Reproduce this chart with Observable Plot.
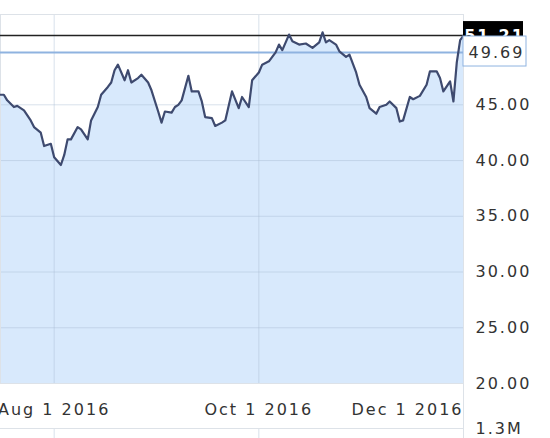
<!DOCTYPE html>
<html><head><meta charset="utf-8">
<script src="https://cdn.jsdelivr.net/npm/d3@7"></script>
<script src="https://cdn.jsdelivr.net/npm/@observablehq/plot@0.6"></script>
<style>
html,body{margin:0;padding:0;background:#fff;}
#chart svg{display:block;overflow:visible;}
</style></head><body><div id="chart"></div>
<script>
const dates = ["2016-07-16","2016-07-17","2016-07-18","2016-07-20","2016-07-21","2016-07-23","2016-07-25","2016-07-26","2016-07-28","2016-07-29","2016-07-31",
"2016-08-01","2016-08-03","2016-08-04","2016-08-05","2016-08-06","2016-08-08","2016-08-09","2016-08-11","2016-08-12","2016-08-14","2016-08-15","2016-08-17","2016-08-18","2016-08-19","2016-08-20","2016-08-22","2016-08-23","2016-08-24","2016-08-26","2016-08-27","2016-08-29","2016-08-30",
"2016-09-01","2016-09-02","2016-09-03","2016-09-05","2016-09-06","2016-09-07","2016-09-08","2016-09-10","2016-09-11","2016-09-13","2016-09-14","2016-09-15","2016-09-17","2016-09-18","2016-09-20","2016-09-21","2016-09-23","2016-09-25","2016-09-26","2016-09-28","2016-09-29",
"2016-10-01","2016-10-02","2016-10-04","2016-10-06","2016-10-07","2016-10-08","2016-10-10","2016-10-11","2016-10-13","2016-10-15","2016-10-17","2016-10-19","2016-10-20","2016-10-21","2016-10-22","2016-10-24","2016-10-25","2016-10-27","2016-10-28","2016-10-30","2016-10-31",
"2016-11-02","2016-11-03","2016-11-05","2016-11-06","2016-11-08","2016-11-09","2016-11-11","2016-11-12","2016-11-13","2016-11-15","2016-11-16","2016-11-18","2016-11-20","2016-11-21","2016-11-23","2016-11-24","2016-11-25","2016-11-27","2016-11-28","2016-11-29","2016-11-30","2016-12-01"];
const prices = [45.9,45.9,45.4,44.8,44.9,44.5,43.6,43.0,42.5,41.3,41.5,
40.3,39.6,40.5,41.9,41.9,43.0,42.8,41.9,43.6,44.8,45.9,46.6,47.0,48.1,48.6,47.2,48.1,47.0,47.4,47.7,47.0,46.3,
44.4,43.4,44.4,44.3,44.8,45.0,45.4,47.6,46.2,46.2,45.3,43.9,43.8,43.1,43.4,43.6,46.2,44.7,45.7,44.8,47.2,
47.9,48.6,48.9,49.7,50.4,49.9,51.3,50.7,50.4,50.5,50.1,50.6,51.5,50.6,50.8,50.4,49.8,49.3,49.5,47.9,46.8,
45.7,44.7,44.2,44.8,45.0,45.3,44.7,43.5,43.6,45.7,45.5,45.8,46.8,48.0,48.0,47.4,46.2,47.1,45.3,48.8,50.8,51.21];
const yTicks = [20, 25, 30, 35, 40, 45];
const xTicks = ["2016-08-01", "2016-10-01"];
const xEndTick = "2016-12-01";
const xDomain = ["2016-07-16", "2016-12-01"];
const yDomain = [20, 53.1];
const lastPrice = 51.21;
const prevClose = 49.69;
const volumeMax = 1.3e6;

const parse = d3.utcParse("%Y-%m-%d");
const data = dates.map((d, i) => ({date: parse(d), price: prices[i]}));
const dom = xDomain.map(parse);
const end = dom[1];
const fmtDate = d3.utcFormat("%b %-d %Y");
const gridColor = "#a9bdd3";
const borderColor = "#dde2e8";
const blueLine = "#8fb3e0";
const style = {fontFamily: "DejaVu Sans, sans-serif", fontSize: "16px", letterSpacing: "2px", color: "#333", background: "white"};

const main = Plot.plot({
  width: 550, height: 428,
  marginTop: 14, marginRight: 87, marginBottom: 45, marginLeft: 0,
  x: {type: "utc", domain: dom, label: null},
  y: {domain: yDomain, label: null},
  style,
  marks: [
    Plot.areaY(data, {x: "date", y1: yDomain[0], y2: "price", fill: "#d8e9fc"}),
    Plot.gridY(yTicks.slice(1), {stroke: gridColor, strokeOpacity: 0.45}),
    Plot.gridX(xTicks.map(parse), {stroke: gridColor, strokeOpacity: 0.45}),
    Plot.frame({stroke: borderColor}),
    Plot.ruleX([end], {stroke: borderColor, insetBottom: -45}),
    Plot.ruleY([prevClose], {stroke: blueLine, strokeWidth: 2}),
    Plot.ruleY([lastPrice], {stroke: "#222", strokeWidth: 1.5}),
    Plot.line(data, {x: "date", y: "price", stroke: "#3e4a6f", strokeWidth: 2.2}),
    Plot.axisY(yTicks, {anchor: "right", tickSize: 0, tickPadding: 12, tickFormat: d3.format(".2f"), label: null}),
    Plot.axisX(xTicks.map(parse), {tickSize: 0, tickPadding: 20, tickFormat: fmtDate, label: null}),
    Plot.axisX([parse(xEndTick)], {tickSize: 0, tickPadding: 20, tickFormat: fmtDate, textAnchor: "end", label: null}),
    Plot.rect([lastPrice], {x1: () => end, x2: () => end, y1: d => d, y2: d => d, insetTop: -14, insetBottom: -14, insetRight: -60, fill: "#000"}),
    Plot.text([lastPrice], {x: () => end, y: d => d, text: d => d.toFixed(2), dx: 31, fill: "white", fontWeight: "bold"}),
    Plot.rect([prevClose], {x1: () => end, x2: () => end, y1: d => d, y2: d => d, insetTop: -16, insetBottom: -14, insetRight: -63, fill: "white", stroke: blueLine}),
    Plot.text([prevClose], {x: () => end, y: d => d, text: d => d.toFixed(2), dx: 33, fill: "#333"})
  ]
});

const vol = Plot.plot({
  width: 550, height: 10,
  marginTop: 0, marginRight: 87, marginBottom: 0, marginLeft: 0,
  x: {type: "utc", domain: dom, axis: null},
  y: {domain: [0, volumeMax], label: null},
  style,
  marks: [
    Plot.gridX(xTicks.map(parse), {stroke: gridColor, strokeOpacity: 0.45}),
    Plot.ruleY([volumeMax], {stroke: borderColor}),
    Plot.ruleX([end], {stroke: borderColor}),
    Plot.axisY([volumeMax], {anchor: "right", tickSize: 0, tickPadding: 12, tickFormat: d3.format(".2s"), label: null})
  ]
});

document.getElementById("chart").append(main, vol);
</script></body></html>
